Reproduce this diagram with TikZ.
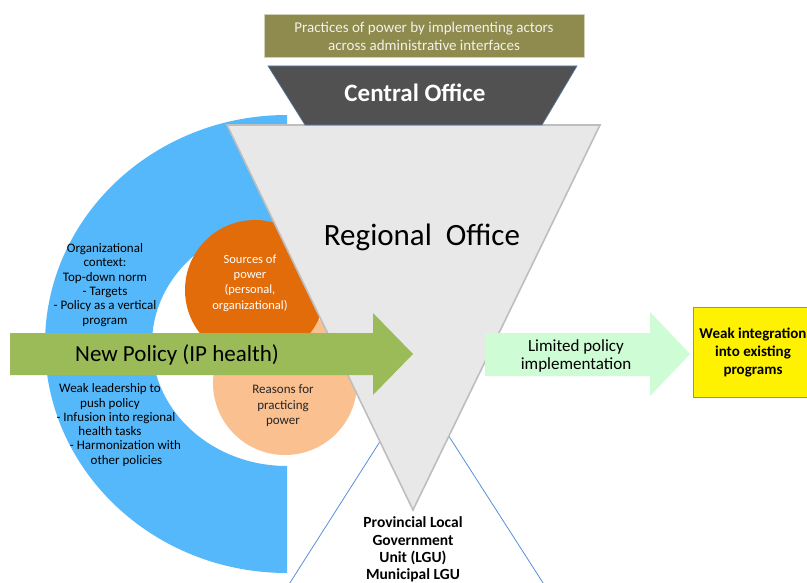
\documentclass[tikz,border=0pt]{standalone}
\usepackage{fontspec}
\setmainfont{Carlito}
\definecolor{olivebox}{HTML}{8F8B4E}
\definecolor{olivetext}{HTML}{F2F2E8}
\definecolor{darkbox}{HTML}{515151}
\definecolor{trifill}{HTML}{E8E8E8}
\definecolor{triline}{HTML}{BEBEBE}
\definecolor{ringblue}{HTML}{55B8FA}
\definecolor{darkorange}{HTML}{E36C0A}
\definecolor{lightorange}{HTML}{FAC090}
\definecolor{policygreen}{HTML}{9BBB59}
\definecolor{palegreen}{HTML}{CEFCD4}
\definecolor{lguline}{HTML}{5A8FD8}
\definecolor{yellowline}{HTML}{7F8FBF}
\tikzset{
  txt/.style={inner sep=0pt, align=center},
  fs/.style 2 args={font=\fontsize{#1}{#2}\selectfont},
  fsb/.style 2 args={font=\fontsize{#1}{#2}\selectfont\bfseries},
}
\begin{document}
\begin{tikzpicture}[x=1pt,y=-1pt]
\useasboundingbox (0,0) rectangle (807,583);
\fill[white] (0,0) rectangle (807,583);
\begin{scope}
\clip (0,0) rectangle (807,583);
% LGU triangle lines
\draw[lguline, line width=0.8pt] (279,600) -- (416,385) -- (554,600);
% blue half ring
\begin{scope}
\clip (0,0) rectangle (287,583);
\fill[ringblue, even odd rule] (287,344) ellipse [x radius=242, y radius=229]
  (287,344) ellipse [x radius=135, y radius=122];
\end{scope}
% circles
\fill[lightorange] (285,383) circle [radius=72];
\fill[darkorange] (255,290) circle [radius=70];
% regional triangle
\filldraw[fill=trifill, draw=triline, line width=1.6pt, line join=miter] (227,125) -- (600,125) -- (413,510) -- cycle;
% central office trapezoid
\filldraw[fill=darkbox, draw=lguline!70!darkbox, line width=0.6pt] (268,66) -- (577,66) -- (542,125) -- (305,125) -- cycle;
% olive box
\filldraw[fill=olivebox, draw=olivebox!40!white, line width=0.8pt] (264,14) rectangle (584,57);
% green arrow
\fill[policygreen] (10,333) -- (373,333) -- (373,313) -- (413,354) -- (373,395) -- (373,375) -- (10,375) -- cycle;
% pale green arrow
\fill[palegreen] (485,333) -- (650,333) -- (650,312) -- (690,354) -- (650,396) -- (650,376) -- (485,376) -- cycle;
% yellow box
\filldraw[fill=yellow, draw=yellowline, line width=0.8pt] (693,307) rectangle (820,397);
\end{scope}
% texts
\node[txt, fs={15}{18}, text=olivetext] (practices) at (424,36) {Practices of power by implementing actors\\across administrative interfaces};
\node[txt, fsb={25}{29}, text=white] (central) at (415,93) {Central Office};
\node[txt, fs={31}{34}] (regional) at (422,237) {Regional\ \ Office};
\node[txt, fs={13}{14.3}] (orgctx) at (105,285) {Organizational\\context:\\Top-down norm\\- Targets\\- Policy as a vertical\\program};
\node[txt, fs={13}{14.3}] (weak) at (110,425) {Weak leadership to\\push policy\\\hspace*{12pt}- Infusion into regional\\health tasks\\\hspace*{31pt}- Harmonization with\\\hspace*{33pt}other policies};
\node[txt, fs={12.5}{15.3}, text=white] (sources) at (250,283) {Sources of\\power\\(personal,\\organizational)};
\node[txt, fs={13}{15.5}, text=black!85] (reasons) at (283,406) {Reasons for\\practicing\\power};
\node[txt, fs={23}{27}] (newpolicy) at (177,355) {New Policy (IP health)};
\node[txt, fs={17}{17.5}] (limited) at (576,356) {Limited policy\\implementation};
\node[txt, fsb={15}{18}] (weakint) at (753,352) {Weak integration\\into existing\\programs};
\node[txt, fsb={15.5}{17.3}] (lgu) at (413,549.5) {Provincial Local\\Government\\Unit (LGU)\\Municipal LGU};
\end{tikzpicture}
\end{document}
